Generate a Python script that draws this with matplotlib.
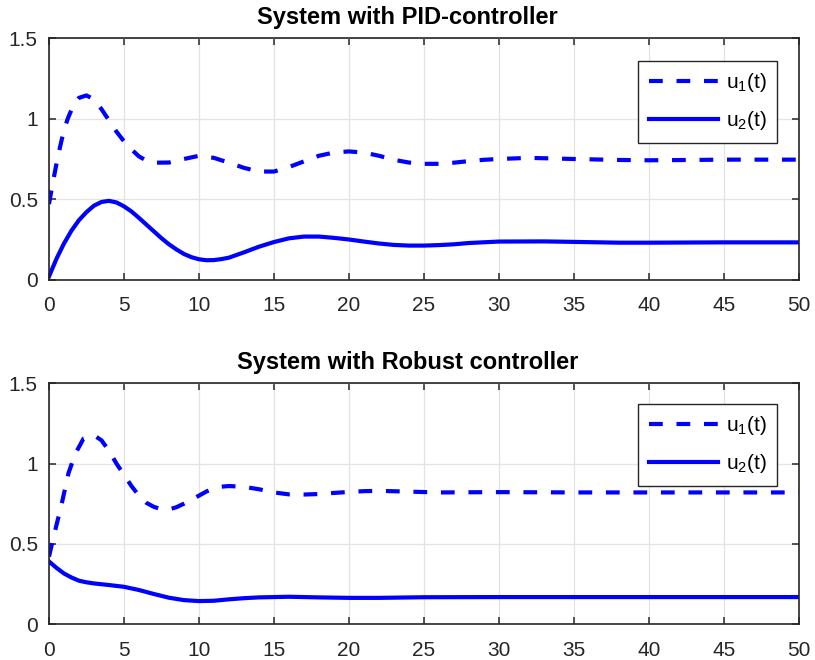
import numpy as np
import matplotlib
matplotlib.use("Agg")
import matplotlib.pyplot as plt

plt.rcParams['font.family'] = ['Liberation Sans', 'DejaVu Sans']
plt.rcParams['mathtext.fontset'] = 'custom'
plt.rcParams['mathtext.rm'] = 'Liberation Sans'
plt.rcParams['mathtext.default'] = 'regular'

# PID-controller response
t_pid_u1 = [0, 0.25, 0.5, 0.75, 1, 1.25, 1.5, 1.75, 2, 2.5, 3, 3.5, 4, 4.5, 5, 5.5, 6, 6.5,
            7, 8, 9, 10, 11, 12, 13, 14, 15, 16, 17, 18, 19, 20, 21, 22, 23, 24, 25, 26,
            27, 28, 29, 30, 32, 35, 38, 40, 43, 45, 50]
pid_u1 = [0.47, 0.60, 0.72, 0.83, 0.93, 1.00, 1.056, 1.10, 1.13, 1.145, 1.12, 1.06, 0.99,
          0.92, 0.86, 0.81, 0.766, 0.74, 0.727, 0.728, 0.75, 0.77, 0.757, 0.727, 0.695,
          0.672, 0.672, 0.70, 0.735, 0.77, 0.79, 0.797, 0.79, 0.77, 0.745, 0.728, 0.72,
          0.72, 0.727, 0.737, 0.745, 0.75, 0.757, 0.75, 0.744, 0.742, 0.744, 0.746, 0.746]
t_pid_u2 = [0, 0.5, 1, 1.5, 2, 2.5, 3, 3.5, 4, 4.5, 5, 5.5, 6, 6.5, 7, 7.5, 8, 8.5, 9, 9.5,
            10, 10.5, 11, 11.5, 12, 13, 14, 15, 16, 17, 18, 19, 20, 21, 22, 23, 24, 25, 26,
            27, 28, 30, 33, 35, 38, 40, 45, 50]
pid_u2 = [0.02, 0.13, 0.225, 0.305, 0.37, 0.42, 0.46, 0.483, 0.49, 0.48, 0.456, 0.424,
          0.384, 0.342, 0.30, 0.258, 0.22, 0.188, 0.16, 0.14, 0.127, 0.121, 0.122, 0.128,
          0.137, 0.17, 0.205, 0.234, 0.257, 0.268, 0.268, 0.26, 0.25, 0.237, 0.225, 0.216,
          0.212, 0.212, 0.215, 0.22, 0.228, 0.237, 0.238, 0.235, 0.23, 0.23, 0.232, 0.232]

# Robust controller response
t_rob_u1 = [0, 0.3, 0.85, 1.3, 1.75, 2.3, 3, 3.5, 4, 4.5, 5, 5.5, 6, 6.5, 7, 7.5, 8, 8.5, 9,
            9.5, 10, 10.5, 11, 11.5, 12, 13, 14, 15, 16, 17, 18, 19, 20, 21, 22, 24, 26,
            30, 35, 40, 50]
rob_u1 = [0.42, 0.54, 0.75, 0.94, 1.06, 1.155, 1.176, 1.145, 1.08, 1.00, 0.93, 0.86, 0.80,
          0.755, 0.73, 0.715, 0.714, 0.728, 0.75, 0.775, 0.80, 0.826, 0.845, 0.856, 0.86,
          0.855, 0.84, 0.82, 0.808, 0.807, 0.81, 0.817, 0.823, 0.828, 0.83, 0.825, 0.82,
          0.822, 0.82, 0.82, 0.82]
t_rob_u2 = [0, 0.5, 1, 1.5, 2, 2.5, 3, 4, 5, 6, 7, 8, 9, 10, 11, 12, 13, 14, 16, 18, 20,
            22, 25, 30, 50]
rob_u2 = [0.39, 0.35, 0.315, 0.29, 0.27, 0.26, 0.253, 0.243, 0.232, 0.212, 0.187, 0.164,
          0.149, 0.143, 0.145, 0.154, 0.161, 0.166, 0.17, 0.166, 0.163, 0.163, 0.167,
          0.168, 0.168]

titles = ["System with PID-controller", "System with Robust controller"]
xticks = list(range(0, 51, 5))
yticks = [0, 0.5, 1, 1.5]
ytick_labels = ["0", "0.5", "1", "1.5"]

fig = plt.figure(figsize=(8.15, 6.6), dpi=100)
ax1 = fig.add_axes([0.0601, 0.5762, 0.920, 0.3658])
ax2 = fig.add_axes([0.0601, 0.0545, 0.920, 0.3647])

series = [(t_pid_u1, pid_u1, t_pid_u2, pid_u2), (t_rob_u1, rob_u1, t_rob_u2, rob_u2)]
legend_tops = [0.906, 0.914]
dark = '#262626'

for ax, title, (ta, ya, tb, yb), ltop in zip([ax1, ax2], titles, series, legend_tops):
    ax.plot(ta, ya, color='blue', lw=3, dashes=(3.3, 3.3), label='u$_1$(t)')
    ax.plot(tb, yb, color='blue', lw=3, label='u$_2$(t)')
    ax.set_xlim(0, 50)
    ax.set_ylim(0, 1.5)
    ax.set_xticks(xticks)
    ax.set_yticks(yticks)
    ax.set_yticklabels(ytick_labels)
    ax.grid(True, color='#e3e3e3', lw=0.9)
    ax.set_axisbelow(True)
    ax.tick_params(direction='in', length=5, width=1.1, top=True, right=True,
                   labelsize=15, colors=dark)
    ax.tick_params(axis='x', pad=12)
    ax.tick_params(axis='y', pad=8)
    for s in ax.spines.values():
        s.set_color(dark)
        s.set_linewidth(1.2)
    # titles sit centred on the figure, not on the axes
    ax.set_title(title, fontsize=17, fontweight='bold', color='black', pad=10, x=0.478)
    leg = ax.legend(loc='upper right', bbox_to_anchor=(0.9707, ltop), borderaxespad=0,
                    fontsize=15, handlelength=3.3, handletextpad=0.38, labelspacing=0.72,
                    borderpad=0.5, fancybox=False, framealpha=1, edgecolor=dark)
    leg.get_frame().set_linewidth(1.0)

fig.savefig("out.png", dpi=100)
